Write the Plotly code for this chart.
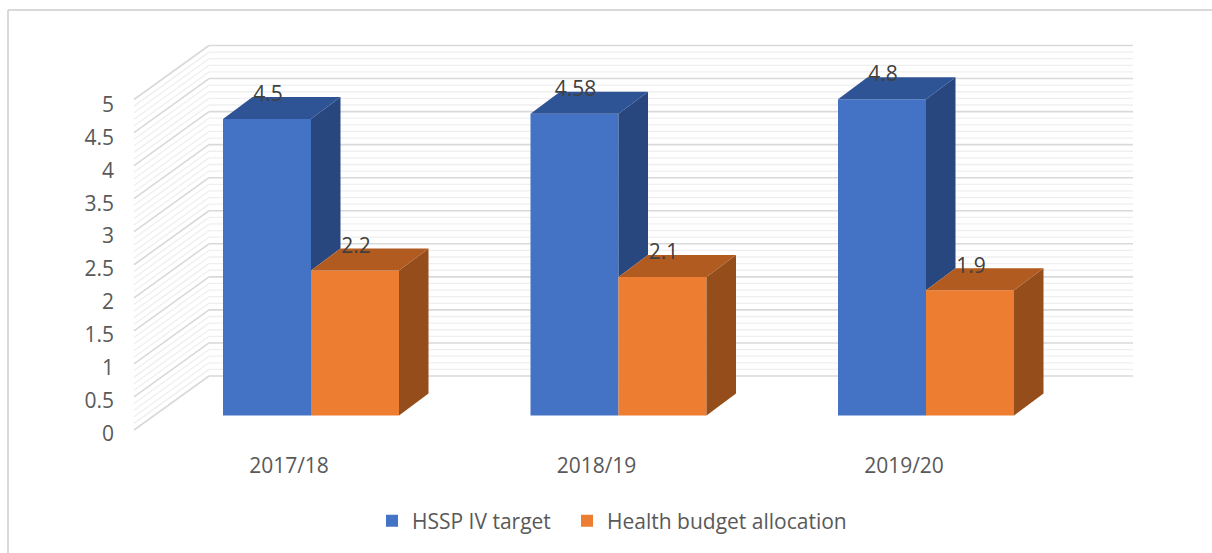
import plotly.graph_objects as go

# --- data ---
categories = ["2017/18", "2018/19", "2019/20"]
hssp_target = [4.5, 4.58, 4.8]
health_allocation = [2.2, 2.1, 1.9]
value_ticks = [0, 0.5, 1, 1.5, 2, 2.5, 3, 3.5, 4, 4.5, 5]
value_tick_labels = ["0", "0.5", "1", "1.5", "2", "2.5", "3", "3.5", "4", "4.5", "5"]

# --- style / layout constants (pixels of the 1212x553 canvas) ---
W, H = 1212, 553
FONT = "Open Sans"
FS = 21
BLUE, BLUE_TOP, BLUE_SIDE = "#4472C4", "#2F5495", "#29477F"
ORANGE, ORANGE_TOP, ORANGE_SIDE = "#ED7D31", "#B25B20", "#954E1B"
CAT_PX = 307.5
CAT0_PX = 311.0
BASE_PX = 415.5
UNIT_PX = 65.9
BAR_PX = 88.0
DEPTH_X, DEPTH_Y = 29.5, 22.0


def x_of(px):
    return (px - CAT0_PX) / CAT_PX


def y_of(py):
    return (BASE_PX - py) / UNIT_PX


dx = DEPTH_X / CAT_PX
dy = DEPTH_Y / UNIT_PX
bw = BAR_PX / CAT_PX
positions = list(range(len(categories)))
fig = go.Figure()

fig.add_bar(x=positions, y=hssp_target, name="HSSP IV target", marker=dict(color=BLUE, line_width=0),
            hoverinfo="skip", legend="legend")
fig.add_bar(x=positions, y=health_allocation, name="Health budget allocation",
            marker=dict(color=ORANGE, line_width=0), hoverinfo="skip", legend="legend2")


def face(xs, ys, color):
    fig.add_scatter(x=xs, y=ys, mode="lines", fill="toself", fillcolor=color, line=dict(width=0, color=color),
                    showlegend=False, hoverinfo="skip")


for i, (a, b) in enumerate(zip(hssp_target, health_allocation)):
    # blue side: only the part above the orange bar is visible
    face([i, i + dx, i + dx, i, i], [a, a + dy, b + dy, b, a], BLUE_SIDE)
    face([i - bw, i - bw + dx, i + dx, i, i - bw], [a, a + dy, a + dy, a, a], BLUE_TOP)
    face([i + bw, i + bw + dx, i + bw + dx, i + bw, i + bw], [b, b + dy, dy, 0, b], ORANGE_SIDE)
    face([i, i + dx, i + bw + dx, i + bw, i], [b, b + dy, b + dy, b, b], ORANGE_TOP)

# data labels
LABEL_UP = 23 / UNIT_PX
fig.add_scatter(x=[i - bw / 2 + 1 / CAT_PX for i in positions], y=[v + LABEL_UP for v in hssp_target],
                mode="text", text=[str(v) for v in hssp_target], textposition="middle center",
                textfont=dict(family=FONT, size=FS, color="#404040"), showlegend=False, hoverinfo="skip")
fig.add_scatter(x=[i + bw / 2 + 1 / CAT_PX for i in positions], y=[v + LABEL_UP for v in health_allocation],
                mode="text", text=[str(v) for v in health_allocation], textposition="middle center",
                textfont=dict(family=FONT, size=FS, color="#404040"), showlegend=False, hoverinfo="skip")

# walls: gridlines every 0.1, major every 0.5
FRONT_ZERO_PY, BACK_ZERO_PY = 430.0, 376.0
WALL_UNIT = 66.1
TICK_ZERO_PY = 433.5
TICK_UNIT = 65.8
shapes = []
for k in range(51):
    v = k / 10
    major = k % 5 == 0
    line = dict(color="#D9D9D9" if major else "#EFEFEF", width=1.6 if major else 1.3)
    yb = y_of(BACK_ZERO_PY - WALL_UNIT * v)
    yf = y_of(FRONT_ZERO_PY - WALL_UNIT * v)
    shapes.append(dict(type="line", layer="below", xref="x", yref="y", x0=x_of(209), x1=x_of(1133), y0=yb, y1=yb, line=line))
    shapes.append(dict(type="line", layer="below", xref="x", yref="y", x0=x_of(134), x1=x_of(209), y0=yf, y1=yb, line=line))

# chart frame
frame = dict(color="#D9D9D9", width=2)
shapes.append(dict(type="line", layer="below", xref="paper", yref="paper", x0=8 / W, x1=1, y0=1 - 10 / H, y1=1 - 10 / H, line=frame))
shapes.append(dict(type="line", layer="below", xref="paper", yref="paper", x0=8 / W, x1=8 / W, y0=1 - 10 / H, y1=0, line=frame))

legend_common = dict(orientation="h", xanchor="left", y=1 - 521 / H, yanchor="middle",
                     bgcolor="rgba(0,0,0,0)", font=dict(family=FONT, size=FS, color="#595959"))

fig.update_layout(
    width=W, height=H, margin=dict(l=0, r=0, t=0, b=0, pad=0),
    paper_bgcolor="white", plot_bgcolor="rgba(0,0,0,0)",
    barmode="group", bargap=1 - 2 * bw, bargroupgap=0,
    shapes=shapes, hovermode=False,
    font=dict(family=FONT, size=FS, color="#595959"),
    showlegend=True,
    legend=dict(x=372 / W, **legend_common),
    legend2=dict(x=567 / W, **legend_common),
    xaxis=dict(range=[x_of(0), x_of(W)], showgrid=False, zeroline=False, showline=False, ticks="",
               tickmode="array", tickvals=[i - 22 / CAT_PX for i in positions], ticktext=categories,
               anchor="free", position=1 - 451 / H, tickfont=dict(family=FONT, size=FS, color="#595959"),
               automargin=False),
    yaxis=dict(range=[y_of(H), y_of(0)], showgrid=False, zeroline=False, showline=False, ticks="",
               tickmode="array", tickvals=[y_of(TICK_ZERO_PY - TICK_UNIT * v) for v in value_ticks],
               ticktext=value_tick_labels, anchor="free", position=114 / W,
               tickfont=dict(family=FONT, size=FS, color="#595959"), automargin=False),
)

fig.write_html("out.html", config=dict(displayModeBar=False),
               post_script="document.body.style.margin='0';document.body.style.overflow='hidden';")
